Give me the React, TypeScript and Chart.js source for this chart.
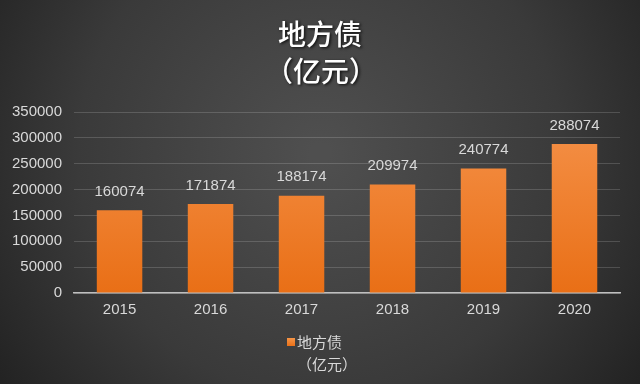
import React, { useEffect, useRef } from "react";
import { Chart, registerables } from "chart.js";

Chart.register(...registerables);

const categories = ["2015", "2016", "2017", "2018", "2019", "2020"];
const values = [160074, 171874, 188174, 209974, 240774, 288074];
const titleLines = ["地方债", "（亿元）"];
const legendLines = ["地方债", "（亿元）"];
const yMax = 350000;
const yStep = 50000;

const CJK = '"Noto Sans CJK SC", "Noto Sans", sans-serif';
const LATIN = '"Liberation Sans", Arial, sans-serif';

const bgPlugin = {
  id: "bgPlugin",
  beforeDraw(chart: any) {
    const { ctx, width, height } = chart;
    ctx.save();
    const g = ctx.createRadialGradient(width / 2, height * 0.4, 10, width / 2, height * 0.4, width * 0.62);
    g.addColorStop(0, "#4f4f4f");
    g.addColorStop(0.6, "#3a3a3a");
    g.addColorStop(1, "#222222");
    ctx.fillStyle = g;
    ctx.fillRect(0, 0, width, height);
    ctx.restore();
  },
};

const decorPlugin = {
  id: "decorPlugin",
  afterDatasetsDraw(chart: any) {
    const { ctx } = chart;
    const meta = chart.getDatasetMeta(0);
    ctx.save();
    ctx.font = `15px ${LATIN}`;
    ctx.fillStyle = "#d9d9d9";
    ctx.textAlign = "center";
    ctx.textBaseline = "bottom";
    meta.data.forEach((bar: any, i: number) => {
      ctx.fillText(String(values[i]), bar.x, bar.y - 11);
    });
    ctx.restore();
  },
  afterDraw(chart: any) {
    const { ctx, width } = chart;
    ctx.save();
    ctx.font = `500 28px ${CJK}`;
    ctx.fillStyle = "#ffffff";
    ctx.textAlign = "center";
    ctx.textBaseline = "middle";
    ctx.shadowColor = "rgba(0,0,0,0.8)";
    ctx.shadowBlur = 3;
    ctx.shadowOffsetX = 1.5;
    ctx.shadowOffsetY = 1.5;
    ctx.fillText(titleLines[0], width / 2, 34);
    ctx.fillText(titleLines[1], width / 2 + 1, 71);
    ctx.restore();
    ctx.save();
    const sx = 287;
    const sy = 342;
    const g = ctx.createLinearGradient(0, sy - 4, 0, sy + 4);
    g.addColorStop(0, "#f59547");
    g.addColorStop(1, "#ea7118");
    ctx.fillStyle = g;
    ctx.fillRect(sx, sy - 4, 8, 8);
    ctx.font = `15px ${CJK}`;
    ctx.fillStyle = "#d9d9d9";
    ctx.textAlign = "left";
    ctx.textBaseline = "middle";
    ctx.fillText(legendLines[0], sx + 10, sy);
    ctx.fillText(legendLines[1], sx + 10, sy + 22);
    ctx.restore();
  },
};

export default function App() {
  const ref = useRef<HTMLCanvasElement | null>(null);
  useEffect(() => {
    document.body.style.margin = "0";
    const canvas = ref.current!;
    const chart = new Chart(canvas, {
      type: "bar",
      data: {
        labels: categories,
        datasets: [
          {
            label: legendLines.join(""),
            data: values,
            backgroundColor: (c: any) => {
              const area = c.chart.chartArea;
              if (!area) return "#ee7d2c";
              const g = c.chart.ctx.createLinearGradient(0, area.top, 0, area.bottom);
              g.addColorStop(0, "#f5924a");
              g.addColorStop(1, "#e96f16");
              return g;
            },
            borderWidth: 0,
            barPercentage: 0.5,
            categoryPercentage: 1,
          },
        ],
      },
      options: {
        responsive: false,
        animation: false,
        layout: { padding: { top: 112, left: 0, right: 20, bottom: 57 } },
        plugins: {
          legend: { display: false },
          title: { display: false },
          tooltip: { enabled: false },
        },
        scales: {
          x: {
            grid: { display: false, drawTicks: false },
            border: { display: true, color: "#bfbfbf", width: 1.5 },
            ticks: { color: "#d9d9d9", font: { family: LATIN, size: 15 }, padding: 8 },
          },
          y: {
            min: 0,
            max: yMax,
            grid: { color: "rgba(255,255,255,0.16)", drawTicks: false, lineWidth: 1 },
            border: { display: false },
            ticks: {
              stepSize: yStep,
              color: "#d9d9d9",
              font: { family: LATIN, size: 15 },
              padding: 12,
              callback: (v: any) => String(v),
            },
          },
        },
      },
      plugins: [bgPlugin, decorPlugin],
    });
    return () => chart.destroy();
  }, []);
  return <canvas ref={ref} width={640} height={384} style={{ display: "block" }} />;
}
